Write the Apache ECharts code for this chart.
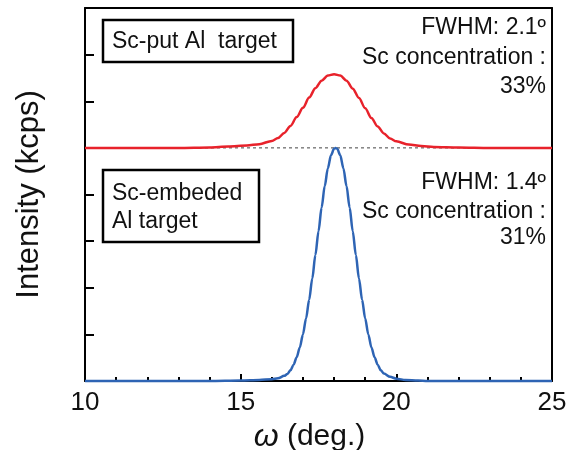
<!DOCTYPE html>
<html>
<head>
<meta charset="utf-8">
<script src="https://cdn.jsdelivr.net/npm/echarts@6/dist/echarts.min.js"></script>
<style>
html,body{margin:0;padding:0;background:#fff;}
#chart{width:574px;height:450px;}
</style>
</head>
<body>
<div id="chart"></div>
<script>
// ---- data ----
const xTickLabels = [10, 15, 20, 25];
const redX = [10, 13, 14, 14.6, 15.2, 15.6, 16.0, 16.2, 16.4, 16.6, 16.8, 17.0, 17.2, 17.4, 17.6, 17.8, 18.0, 18.2, 18.4, 18.6, 18.8, 19.0, 19.2, 19.4, 19.6, 19.8, 20.0, 20.4, 20.8, 21.2, 22, 23, 25];
const redY = [5.0, 5.0, 5.01, 5.03, 5.05, 5.08, 5.15, 5.21, 5.32, 5.47, 5.66, 5.86, 6.08, 6.28, 6.44, 6.55, 6.58, 6.55, 6.44, 6.27, 6.07, 5.85, 5.64, 5.46, 5.31, 5.20, 5.14, 5.07, 5.04, 5.02, 5.01, 5.0, 5.0];
const blueX = [10, 14, 15, 15.6, 16.0, 16.2, 16.4, 16.5, 16.6, 16.7, 16.8, 16.9, 17.0, 17.1, 17.2, 17.3, 17.4, 17.5, 17.6, 17.7, 17.8, 17.9, 18.0, 18.05, 18.1, 18.2, 18.3, 18.4, 18.5, 18.6, 18.7, 18.8, 18.9, 19.0, 19.1, 19.2, 19.3, 19.4, 19.5, 19.6, 19.8, 20.0, 20.3, 20.7, 21, 25];
const blueY = [0, 0, 0.01, 0.02, 0.04, 0.06, 0.11, 0.15, 0.23, 0.35, 0.51, 0.72, 1.0, 1.34, 1.74, 2.2, 2.7, 3.21, 3.72, 4.18, 4.56, 4.84, 4.98, 5.0, 4.98, 4.84, 4.56, 4.18, 3.72, 3.21, 2.7, 2.2, 1.74, 1.34, 1.0, 0.72, 0.51, 0.35, 0.23, 0.16, 0.09, 0.05, 0.02, 0.01, 0, 0];
const dashX = [10, 25];
const dashY = [5, 5];
const upperNote = ['FWHM: 2.1º', 'Sc concentration :', '33%'];
const lowerNote = ['FWHM: 1.4º', 'Sc concentration :', '31%'];
const upperLabel = ['Sc-put Al  target'];
const lowerLabel = ['Sc-embeded', 'Al target'];

const FONT = "'Liberation Sans', Arial, sans-serif";
const zip = (xs, ys) => xs.map((x, i) => [x, ys[i]]);

const chart = echarts.init(document.getElementById('chart'), null, {renderer: 'canvas'});

const noteText = (lines, x, ys) => lines.map((t, i) => ({
  type: 'text', x: x, y: ys[i],
  style: {text: t, font: '23px ' + FONT, fill: '#111', textAlign: 'right', textVerticalAlign: 'middle'}
}));

chart.setOption({
  animation: false,
  backgroundColor: '#fff',
  grid: {left: 85, right: 22, top: 8, bottom: 69, show: false, containLabel: false, outerBoundsMode: 'none'},
  xAxis: [{
    type: 'value', min: 10, max: 25, interval: 5,
    axisLine: {show: true, lineStyle: {color: '#000', width: 2}},
    axisTick: {show: true, inside: true, length: 7, lineStyle: {color: '#000', width: 2}},
    minorTick: {show: true, splitNumber: 5, length: 4, lineStyle: {color: '#000', width: 2}},
    splitLine: {show: false},
    axisLabel: {fontSize: 26, fontFamily: FONT, color: '#111', margin: 9,
      formatter: v => xTickLabels.includes(v) ? String(v) : ''},
    name: '{i|ω} (deg.)', nameLocation: 'middle', nameGap: 36,
    nameTextStyle: {fontSize: 30, fontFamily: FONT, color: '#111', padding: [0, 18, 0, 0],
      rich: {i: {fontSize: 32, fontFamily: FONT, fontStyle: 'italic', color: '#111'}}}
  }, {
    type: 'value', min: 10, max: 25, position: 'top',
    axisLine: {show: true, onZero: false, lineStyle: {color: '#000', width: 2}},
    axisTick: {show: false}, axisLabel: {show: false}, splitLine: {show: false}
  }],
  yAxis: [{
    type: 'value', min: 0, max: 8, interval: 1,
    axisLine: {show: true, lineStyle: {color: '#000', width: 2}},
    axisTick: {show: true, inside: true, length: 9, lineStyle: {color: '#000', width: 2}},
    axisLabel: {show: false}, splitLine: {show: false},
    name: 'Intensity (kcps)', nameLocation: 'middle', nameGap: 40,
    nameTextStyle: {fontSize: 31, fontFamily: FONT, color: '#111'}
  }, {
    type: 'value', min: 0, max: 8, position: 'right',
    axisLine: {show: true, onZero: false, lineStyle: {color: '#000', width: 2}},
    axisTick: {show: false}, axisLabel: {show: false}, splitLine: {show: false}
  }],
  series: [{
    type: 'line', data: zip(dashX, dashY), symbol: 'none', silent: true, z: 1,
    lineStyle: {color: '#444', width: 1, type: [3, 3]}
  }, {
    type: 'line', data: zip(blueX, blueY), symbol: 'none', smooth: 0.3, smoothMonotone: 'x', clip: false, z: 3,
    lineStyle: {color: '#2e64b4', width: 2.5}
  }, {
    type: 'line', data: zip(redX, redY), symbol: 'none', smooth: 0.3, smoothMonotone: 'x', clip: false, z: 3,
    lineStyle: {color: '#e8222b', width: 2.5}
  }],
  graphic: [
    {type: 'rect', shape: {x: 103, y: 20, width: 190, height: 42}, style: {fill: '#fff', stroke: '#000', lineWidth: 2.5}, z: 10},
    {type: 'text', x: 112, y: 42, z: 11, style: {text: upperLabel[0], font: '23px ' + FONT, fill: '#111', textVerticalAlign: 'middle'}},
    {type: 'rect', shape: {x: 103, y: 170, width: 156, height: 72}, style: {fill: '#fff', stroke: '#000', lineWidth: 2.5}, z: 10},
    {type: 'text', x: 112, y: 194, z: 11, style: {text: lowerLabel[0], font: '23px ' + FONT, fill: '#111', textVerticalAlign: 'middle'}},
    {type: 'text', x: 112, y: 222, z: 11, style: {text: lowerLabel[1], font: '23px ' + FONT, fill: '#111', textVerticalAlign: 'middle'}},
    ...noteText(upperNote, 546, [28, 58, 87]),
    ...noteText(lowerNote, 546, [183, 212, 238])
  ]
});
</script>
</body>
</html>
